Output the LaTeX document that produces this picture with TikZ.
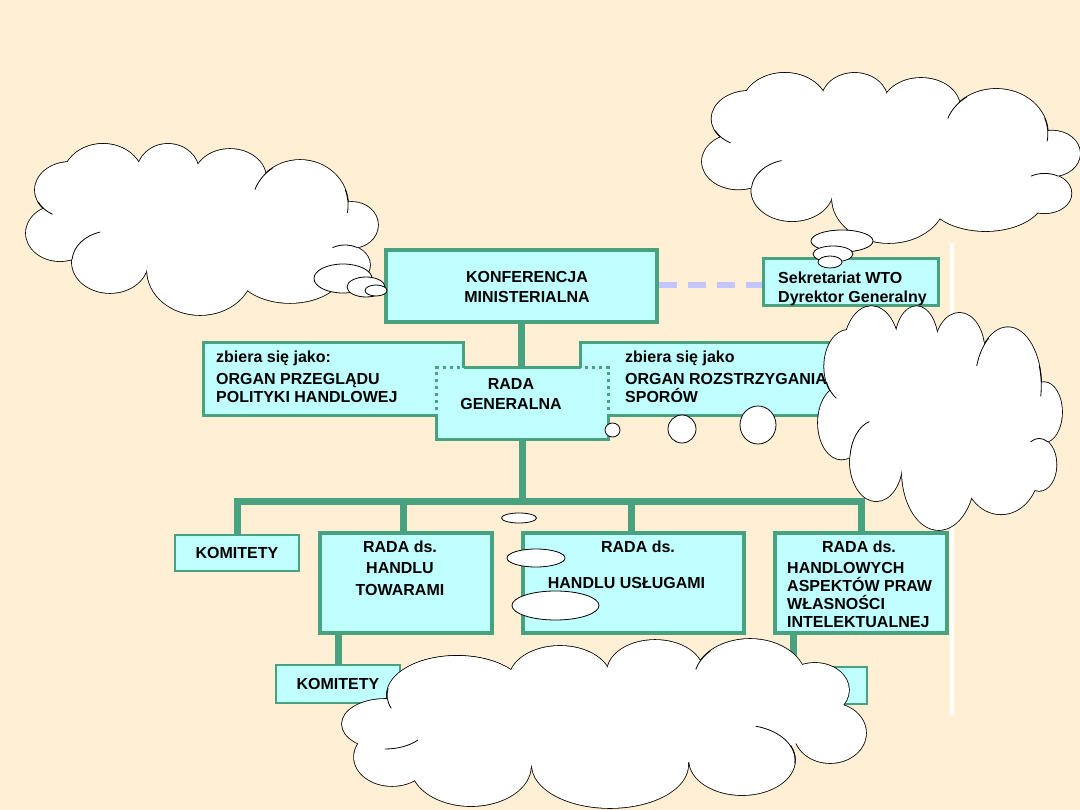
\documentclass[tikz,border=0pt]{standalone}
\usepackage{fontspec}
\setmainfont{Liberation Sans}
\definecolor{tlo}{RGB}{255,240,213}
\definecolor{zielen}{RGB}{72,162,128}
\definecolor{blekit}{RGB}{191,255,255}
\definecolor{liliowy}{RGB}{196,196,255}
% kłęby chmurek: środek u/v i promienie (w połowach szerokości/wysokości),
% pierwszy kłąb powtórzony na końcu
\newcommand\klebyGorne{-0.5625/-0.593/0.227/0.395, -0.193/-0.663/0.176/0.326,
  0.159/-0.593/0.205/0.337, 0.557/-0.279/0.273/0.523, 0.852/-0.047/0.148/0.267,
  0.8125/0.419/0.142/0.233, 0.5/0.453/0.3125/0.407, -0.011/0.477/0.301/0.523,
  -0.523/0.384/0.216/0.36, -0.807/0.047/0.193/0.326, -0.75/-0.453/0.199/0.326,
  -0.5625/-0.593/0.227/0.395}
\newcommand\klebyDolne{-0.561/-0.341/0.267/0.459, -0.168/-0.518/0.195/0.4,
  0.195/-0.612/0.183/0.376, 0.557/-0.518/0.214/0.482, 0.805/-0.4/0.13/0.318,
  0.863/0.106/0.137/0.353, 0.527/0.424/0.202/0.412, 0.023/0.482/0.298/0.506,
  -0.508/0.494/0.229/0.471, -0.809/0.388/0.145/0.341, -0.836/0/0.164/0.294,
  -0.561/-0.341/0.267/0.459}
% fałdy w środku chmurki: kłąb i zakres kąta łuku
\newcommand\faldyGorne{-0.75/-0.453/0.199/0.326/120/155, -0.523/0.384/0.216/0.36/185/255,
  0.8125/0.419/0.142/0.233/240/300, 0.557/-0.279/0.273/0.523/-20/10,
  0.557/-0.279/0.273/0.523/200/235}
\newcommand\faldyDolne{0.527/0.424/0.202/0.412/-75/5, -0.836/0/0.164/0.294/40/90,
  -0.561/-0.341/0.267/0.459/160/190, 0.557/-0.518/0.214/0.482/195/225}
\tikzset{
  pole/.style={draw=zielen, fill=blekit, line width=4pt, inner sep=0pt,
    font=\bfseries\fontsize{16}{18}\selectfont},
  napis/.style={inner sep=0pt, font=\bfseries\fontsize{16}{18}\selectfont},
  galaz/.style={draw=zielen, line width=7pt},
  obrys/.style={draw=zielen, line width=3pt},
  bombel/.style={draw=black, fill=white, line width=0.8pt},
  pics/chmura/.style n args={2}{code={
    \foreach \u/\v/\ru/\rv in #1
      \draw[line width=1.6pt] (\u,\v) ellipse [x radius=\ru, y radius=\rv];
    \foreach \u/\v/\ru/\rv in #1
      \fill[white] (\u,\v) ellipse [x radius=\ru, y radius=\rv];
    \fill[white] (0,0) \foreach \u/\v/\ru/\rv in #1 {-- (\u,\v)} -- cycle;
    \foreach \u/\v/\ru/\rv/\a/\b in #2
      \draw[line width=0.8pt] ({\u+\ru*cos(\a)},{\v+\rv*sin(\a)})
        arc[start angle=\a, end angle=\b, x radius=\ru, y radius=\rv];
  }}
}
\begin{document}
\begin{tikzpicture}[x=1pt, y=-1pt]
  \useasboundingbox (0,0) rectangle (1080,810);
  \fill[tlo] (0,0) rectangle (1080,810);
  % biała pionowa linia
  \draw[white, line width=4pt] (952,243) -- (952,715);

  % Konferencja Ministerialna i Sekretariat
  \node[pole, minimum width=271pt, minimum height=72pt] (konf) at (521.5,286) {};
  \node[napis, align=center] (konfnapis) at (527,287) {KONFERENCJA\\[2pt]MINISTERIALNA};
  \node[pole, line width=3pt, minimum width=175pt, minimum height=47pt] (sekr) at (850.5,282.5) {};
  \node[napis, align=left, anchor=west] (sekrnapis) at (778,288.5) {Sekretariat WTO\\[1pt]Dyrektor Generalny};
  \draw[liliowy, line width=6pt, dash pattern=on 18pt off 11pt] (konf.east |- 0,285) -- (sekr.west |- 0,285);

  % organy, jako które zbiera się Rada
  \node[pole, line width=3pt, minimum width=260pt, minimum height=73pt] (przeglad) at (333,379.5) {};
  \node[napis, align=left, anchor=west] (przegladnapis) at (216,377) {zbiera się jako:\\[4pt]ORGAN PRZEGLĄDU\\POLITYKI HANDLOWEJ};
  \node[pole, line width=3pt, minimum width=259pt, minimum height=73pt] (spory) at (709.5,379.5) {};
  \node[napis, align=left, anchor=west] (sporynapis) at (625,377) {zbiera się jako\\[4pt]ORGAN ROZSTRZYGANIA\\SPORÓW};

  % Rada Generalna (kropkowana ramka na polach bocznych)
  \node[pole, draw=none, outer sep=0pt, minimum width=172pt, minimum height=72pt] (rada) at (522,404) {};
  \draw[obrys] (rada.north west -| przeglad.east) -- (rada.north east -| spory.west);
  \draw[obrys] (rada.west |- przeglad.south) |- (rada.south) -| (rada.east |- spory.south);
  \draw[obrys, dash pattern=on 3pt off 4pt] (rada.west |- przeglad.south) |- (rada.north west -| przeglad.east);
  \draw[obrys, dash pattern=on 3pt off 4pt] (rada.east |- spory.south) |- (rada.north east -| spory.west);
  \node[napis, align=center] (radanapis) at (511,394) {RADA\\[2pt]GENERALNA};
  \draw[galaz] (konf.south) -- (konf.south |- rada.north);

  % rady i komitety
  \coordinate (szyna) at (522,501);
  \node[pole, line width=2.5pt, minimum width=124pt, minimum height=36pt] (kom1) at (237,553) {KOMITETY};
  \node[pole, minimum width=172pt, minimum height=100pt] (towary) at (406,583) {};
  \node[pole, minimum width=221pt, minimum height=100pt] (uslugi) at (633.5,583) {};
  \node[pole, minimum width=172pt, minimum height=100pt] (trips) at (861,583) {};
  \draw[galaz] (rada.south) -- (szyna);
  \draw[galaz] (kom1.north) |- (szyna) -| (trips.north);
  \draw[galaz] ([xshift=-3pt]towary.north) -- ([xshift=-3pt]towary.north |- szyna);
  \draw[galaz] ([xshift=-2pt]uslugi.north) -- ([xshift=-2pt]uslugi.north |- szyna);
  \node[napis, align=center] (towarynapis) at (400,568) {RADA ds.\\[3.5pt]HANDLU\\[3.5pt]TOWARAMI};
  \node[napis] (uslugityt) at (638,547) {RADA ds.};
  \node[napis] (uslugitekst) at (626.5,583) {HANDLU USŁUGAMI};
  \node[napis] (tripstyt) at (859,547) {RADA ds.};
  \node[napis, align=left, anchor=west] (tripstekst) at (787,595) {HANDLOWYCH\\ASPEKTÓW PRAW\\WŁASNOŚCI\\INTELEKTUALNEJ};

  % komitety niższego rzędu
  \node[pole, line width=2.5pt, minimum width=124pt, minimum height=38pt] (kom2) at (338,684) {KOMITETY};
  \node[pole, line width=2.5pt, minimum width=124pt, minimum height=37pt] (kom3) at (805,685.5) {};
  \draw[galaz] (kom2.north) -- (kom2.north |- towary.south);
  \draw[galaz] ([xshift=-12pt]kom3.north) -- ([xshift=-12pt]kom3.north |- trips.south);

  % chmurki
  \pic[xscale=176, yscale=86] (chmuralewa) at (202,229) {chmura={\klebyGorne}{\faldyGorne}};
  \draw[bombel] (343,278.5) ellipse [x radius=29, y radius=14.5];
  \draw[bombel] (366,287) ellipse [x radius=19, y radius=10];
  \draw[bombel] (376,290.5) ellipse [x radius=11, y radius=5.5];

  \pic[xscale=189, yscale=85.5] (chmuragorna) at (891,157.5) {chmura={\klebyGorne}{\faldyGorne}};
  \draw[bombel] (842,241) ellipse [x radius=31, y radius=11];
  \draw[bombel] (833,254) ellipse [x radius=20, y radius=8];
  \draw[bombel] (830,262) ellipse [x radius=12, y radius=6];

  \pic[xscale=122, yscale=112.5] (chmuraboczna) at (940,417.5) {chmura={\klebyGorne}{\faldyGorne}};
  \draw[bombel] (612.5,430) ellipse [x radius=7.5, y radius=7];
  \draw[bombel] (682,429) ellipse [x radius=14, y radius=14];
  \draw[bombel] (758,425) ellipse [x radius=18, y radius=19];

  \pic[xscale=262, yscale=85] (chmuradolna) at (604,724) {chmura={\klebyDolne}{\faldyDolne}};
  \draw[bombel] (519,518) ellipse [x radius=17.5, y radius=5];
  \draw[bombel] (536,558) ellipse [x radius=29, y radius=9];
  \draw[bombel] (555.5,605.5) ellipse [x radius=43.5, y radius=14.5];
\end{tikzpicture}
\end{document}
